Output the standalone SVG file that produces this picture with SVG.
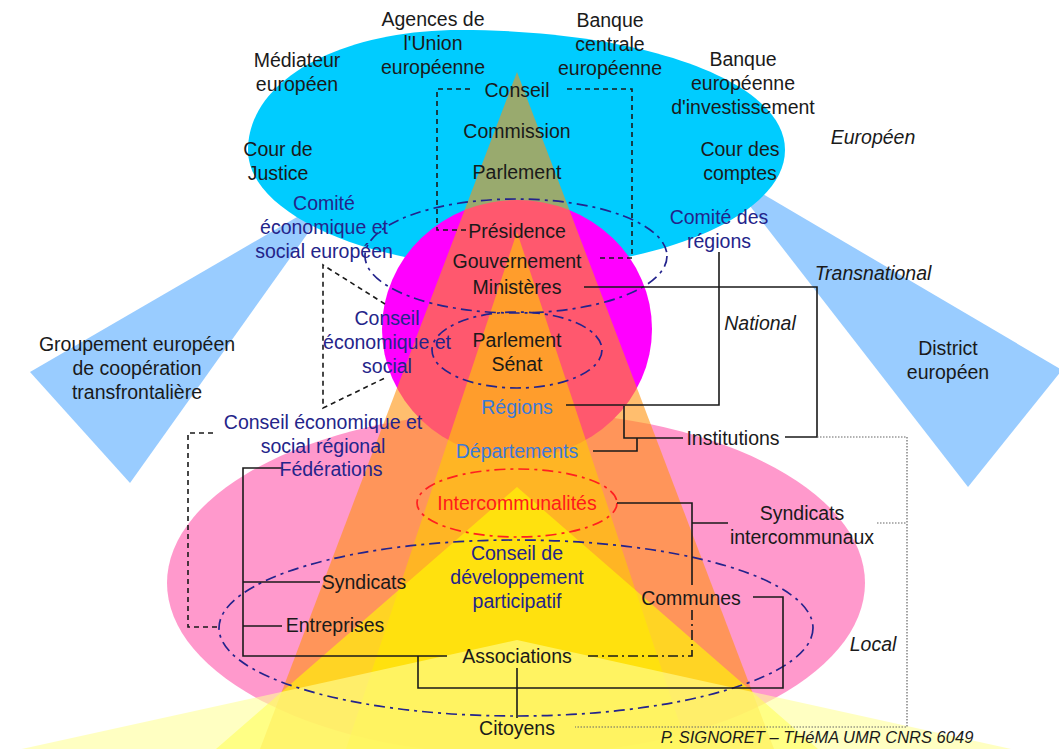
<svg xmlns="http://www.w3.org/2000/svg" width="1059" height="749" viewBox="0 0 1059 749">
<style>
text{font-family:"Liberation Sans",Arial,sans-serif;font-size:19.5px;fill:#1a1a1a;text-anchor:middle}
.nv{fill:#24248a}
.bl{fill:#3a7ad8}
.rd{fill:#ff1a1a}
.it{font-style:italic}
.sig{font-style:italic;font-size:16.5px}
.ln{fill:none;stroke:#1a1a1a;stroke-width:1.6}
.da{fill:none;stroke:#1a1a1a;stroke-width:1.6;stroke-dasharray:5 4}
.dd{fill:none;stroke:#1a1a1a;stroke-width:1.6;stroke-dasharray:10 4 2 4}
.dt{fill:none;stroke:#666;stroke-width:1.2;stroke-dasharray:1.5 1.5}
.ne{fill:none;stroke:#23238c;stroke-width:1.7;stroke-dasharray:11 5 3 5}
.re{fill:none;stroke:#ff2020;stroke-width:1.7;stroke-dasharray:11 5 3 5}
.tr{opacity:0.6}
</style>
<rect width="1059" height="749" fill="#ffffff"/>
<g id="background">
  <polygon points="335,195 30,372 130,483" fill="#99ccff"/>
  <polygon points="722,170 1062,370 968,487" fill="#99ccff"/>
  <path d="M248,150 C248,80 340,30 460,30 C640,30 785,80 785,150 C785,215 660,268 516,268 C372,268 248,215 248,150 Z" fill="#00ccff"/>
  <ellipse cx="516" cy="583" rx="349" ry="172" fill="#ff99cc"/>
  <ellipse cx="517" cy="329" rx="135" ry="129" fill="#ff00ff"/>
  <polygon class="tr" points="517,72 260,749 774,749" fill="#ff930d"/>
  <polygon class="tr" points="517,232 346,749 688,749" fill="#ffcc00"/>
  <polygon class="tr" points="517,487 216,749 818,749" fill="#ffff00"/>
  <polygon class="tr" points="517,640 -60,767 1120,773" fill="#ffff99"/>
  <ellipse class="ne" cx="516" cy="256" rx="151" ry="57"/>
  <ellipse class="ne" cx="517" cy="350" rx="85" ry="38"/>
  <ellipse class="re" cx="517" cy="503" rx="100" ry="34"/>
  <ellipse class="ne" cx="516" cy="628" rx="297" ry="88"/>
</g>
<g id="connectors">
  <path class="da" d="M470,89 H437 V230 H466"/>
  <path class="da" d="M567,89 H632 V258 H600"/>
  <path class="da" d="M385,304 L323,265 V408 L387,377"/>
  <path class="da" d="M213,433 H188 V627 H217"/>
  <path class="ln" d="M584,287 H817 V437 H785"/>
  <path class="ln" d="M719,252 V405 H566"/>
  <path class="ln" d="M624,406 V438 H683"/>
  <path class="ln" d="M593,451 H637 V438"/>
  <path class="ln" d="M283,468 H243 V656 H447"/>
  <path class="ln" d="M243,582 H320"/>
  <path class="ln" d="M243,626 H282"/>
  <path class="ln" d="M418,656 V688 H783 V597 H753"/>
  <path class="ln" d="M517,668 V718"/>
  <path class="dd" d="M588,656 H692 V610"/>
  <path class="ln" d="M617,503 H692 V585"/>
  <path class="ln" d="M692,523 H728"/>
  <path class="dt" d="M877,523 H907"/>
  <path class="dt" d="M817,437 H907 V727 H575"/>
</g>
<g id="n-agences"><text x="433" y="26">Agences de</text><text x="433" y="50">l'Union</text><text x="433" y="74">européenne</text></g>
<g id="n-bce"><text x="610" y="27">Banque</text><text x="610" y="51">centrale</text><text x="610" y="75">européenne</text></g>
<g id="n-mediateur"><text x="297" y="67">Médiateur</text><text x="297" y="91">européen</text></g>
<g id="n-bei"><text x="743" y="66">Banque</text><text x="743" y="90">européenne</text><text x="743" y="114">d'investissement</text></g>
<g id="n-cour-justice"><text x="278" y="156">Cour de</text><text x="278" y="180">Justice</text></g>
<g id="n-cour-comptes"><text x="740" y="156">Cour des</text><text x="740" y="180">comptes</text></g>
<g id="n-europeen"><text class="it" x="873" y="144">Européen</text></g>
<g id="n-conseil-ue"><text x="517" y="97">Conseil</text></g>
<g id="n-commission"><text x="517" y="138">Commission</text></g>
<g id="n-parlement-ue"><text x="517" y="179">Parlement</text></g>
<g id="n-cese"><text class="nv" x="324" y="210">Comité</text><text class="nv" x="324" y="234">économique et</text><text class="nv" x="324" y="258">social européen</text></g>
<g id="n-cdr"><text class="nv" x="719" y="224">Comité des</text><text class="nv" x="719" y="248">régions</text></g>
<g id="n-presidence"><text x="517" y="238">Présidence</text></g>
<g id="n-gouvernement"><text x="517" y="268">Gouvernement</text></g>
<g id="n-ministeres"><text x="517" y="294">Ministères</text></g>
<g id="n-transnational"><text class="it" x="873" y="280">Transnational</text></g>
<g id="n-national"><text class="it" x="760" y="330">National</text></g>
<g id="n-ces"><text class="nv" x="387" y="325">Conseil</text><text class="nv" x="387" y="349">économique et</text><text class="nv" x="387" y="373">social</text></g>
<g id="n-parlement-senat"><text x="517" y="347">Parlement</text><text x="517" y="371">Sénat</text></g>
<g id="n-gect"><text x="137" y="351">Groupement européen</text><text x="137" y="375">de coopération</text><text x="137" y="399">transfrontalière</text></g>
<g id="n-district"><text x="948" y="355">District</text><text x="948" y="379">européen</text></g>
<g id="n-regions"><text class="bl" x="517" y="414">Régions</text></g>
<g id="n-departements"><text class="bl" x="517" y="458">Départements</text></g>
<g id="n-institutions"><text x="733" y="445">Institutions</text></g>
<g id="n-cesr"><text class="nv" x="323" y="429">Conseil économique et</text><text class="nv" x="323" y="453">social régional</text></g>
<g id="n-federations"><text class="nv" x="331" y="476">Fédérations</text></g>
<g id="n-intercommunalites"><text class="rd" x="517" y="510">Intercommunalités</text></g>
<g id="n-syndicats-inter"><text x="802" y="520">Syndicats</text><text x="802" y="544">intercommunaux</text></g>
<g id="n-cdp"><text class="nv" x="517" y="560">Conseil de</text><text class="nv" x="517" y="584">développement</text><text class="nv" x="517" y="608">participatif</text></g>
<g id="n-syndicats"><text x="364" y="589">Syndicats</text></g>
<g id="n-communes"><text x="691" y="605">Communes</text></g>
<g id="n-entreprises"><text x="335" y="632">Entreprises</text></g>
<g id="n-local"><text class="it" x="873" y="651">Local</text></g>
<g id="n-associations"><text x="517" y="663">Associations</text></g>
<g id="n-citoyens"><text x="517" y="735">Citoyens</text></g>
<g id="credit"><text class="sig" x="817" y="743">P. SIGNORET – THéMA UMR CNRS 6049</text></g>
</svg>
